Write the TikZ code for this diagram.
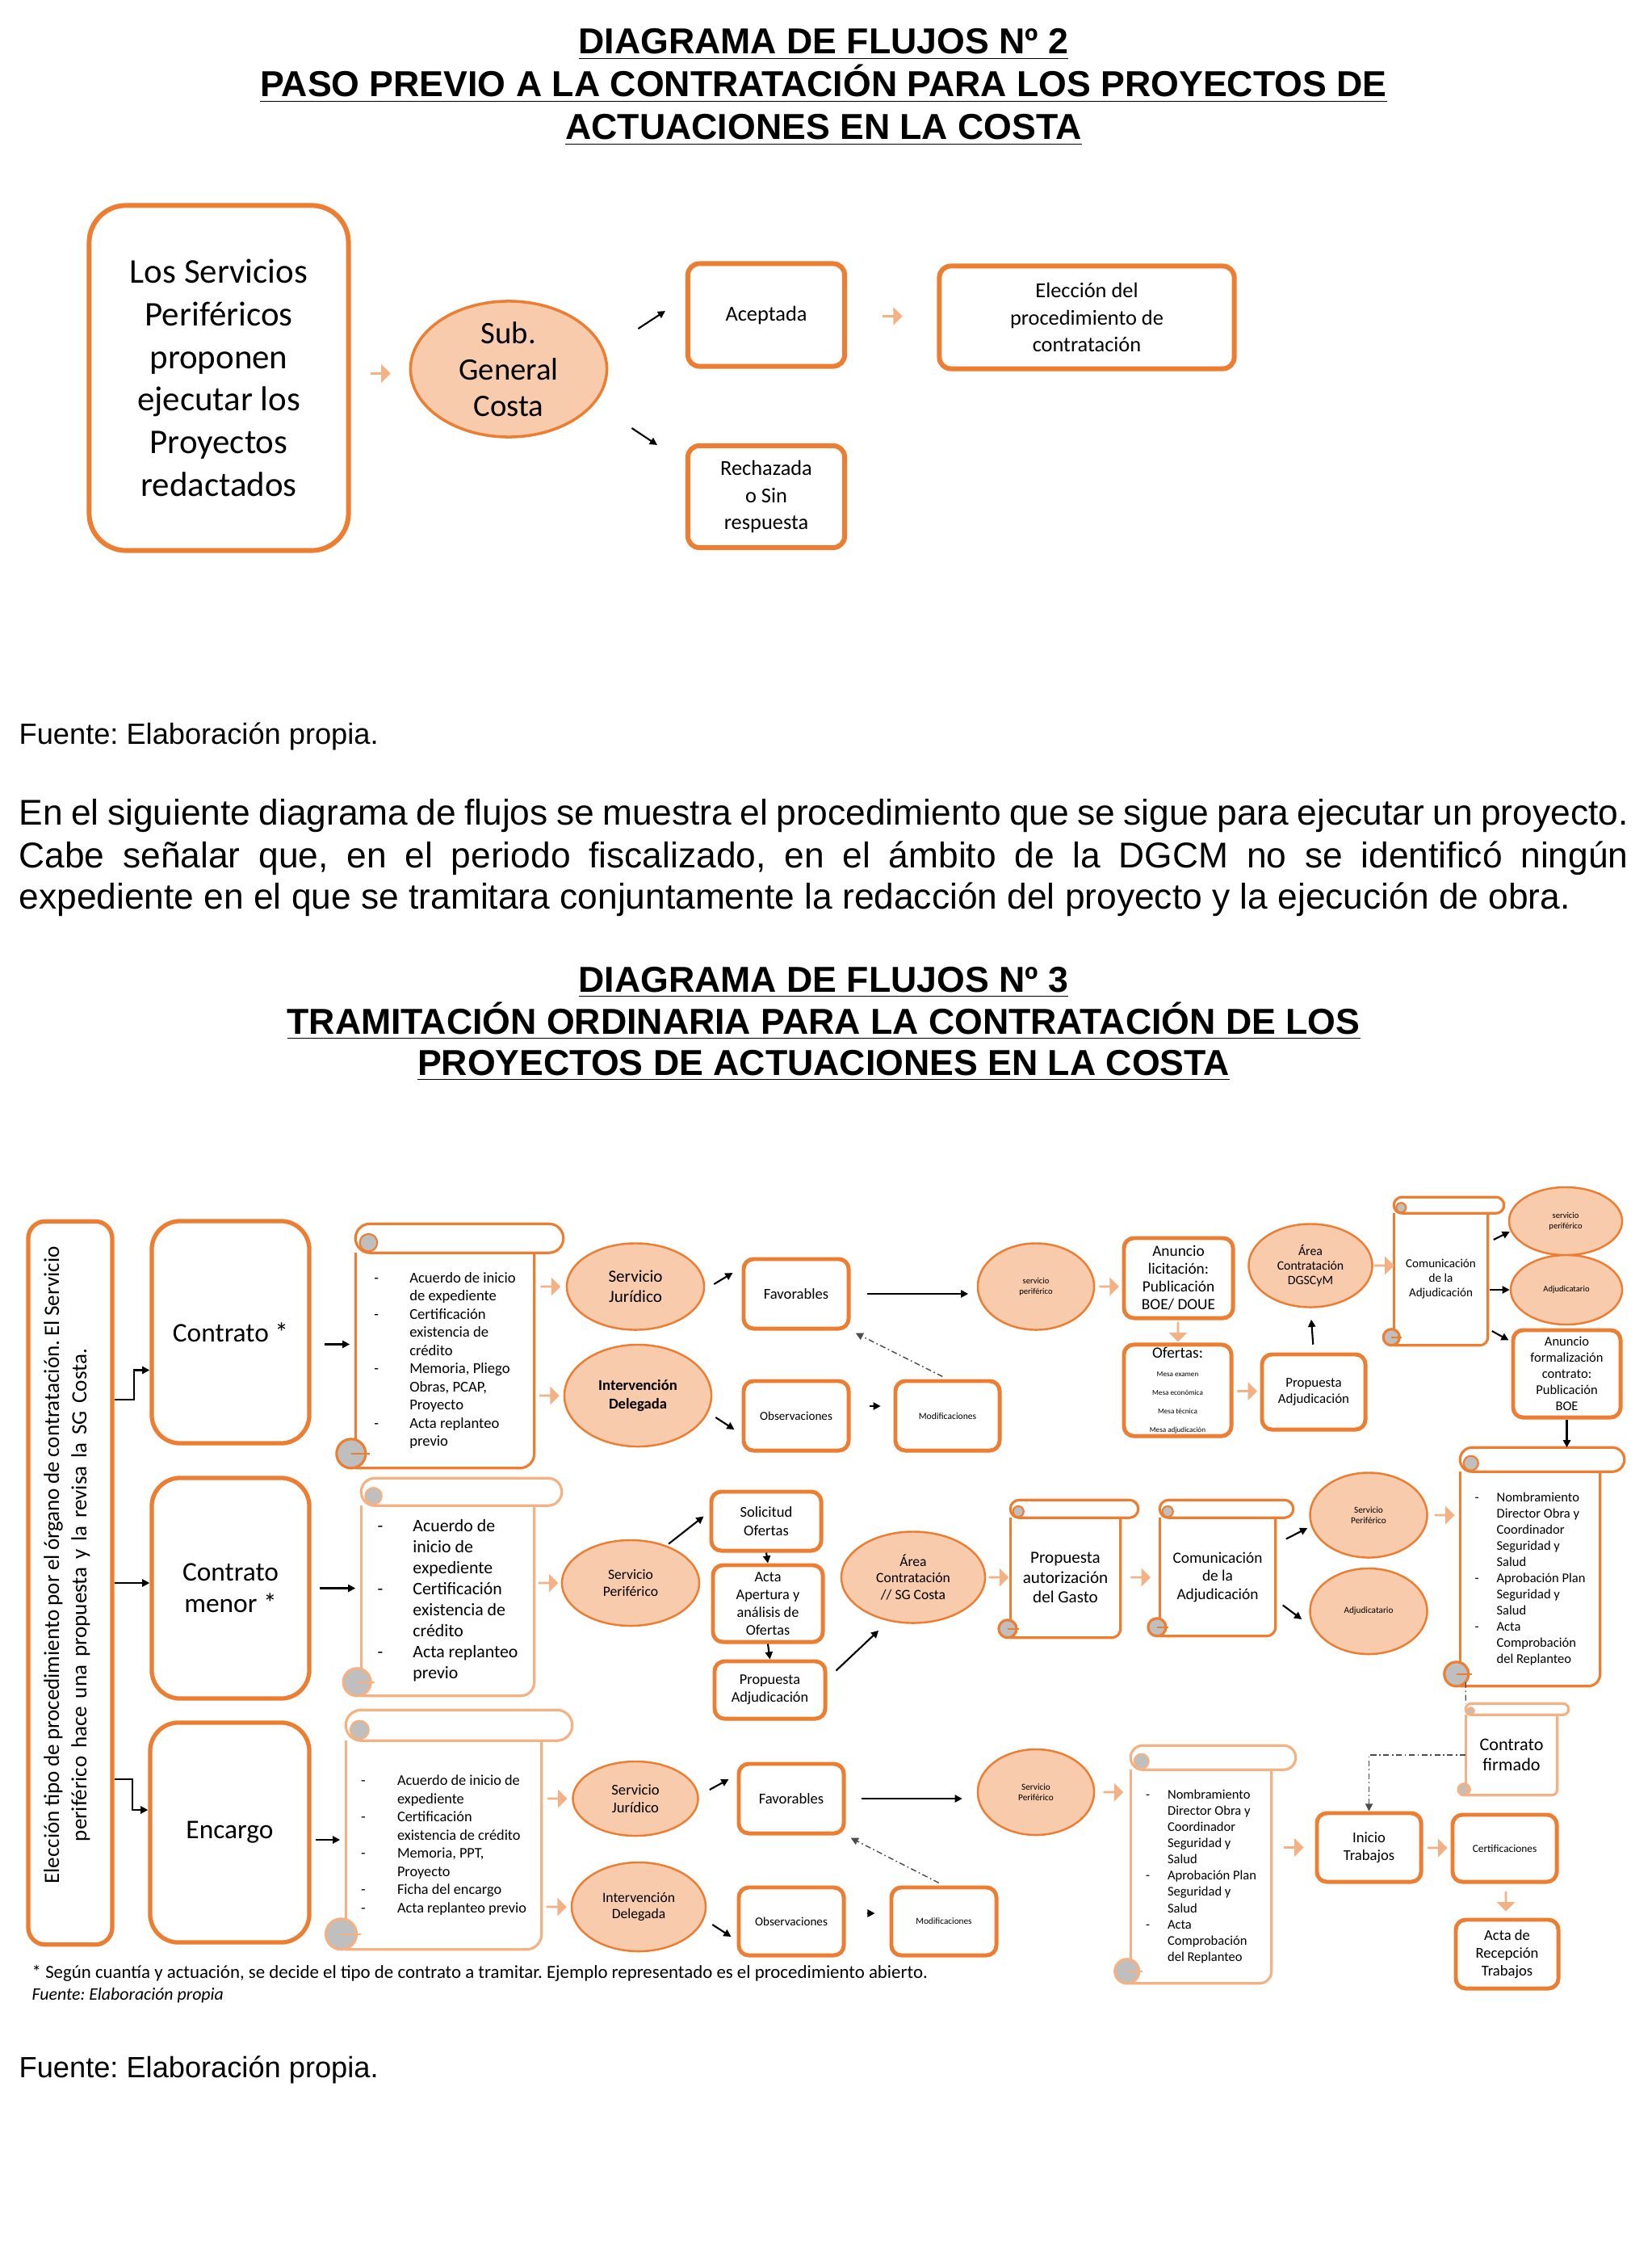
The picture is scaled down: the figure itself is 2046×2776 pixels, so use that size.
\documentclass[tikz,border=0pt]{standalone}
\usepackage{fontspec}
\setmainfont{Liberation Sans}
\newfontfamily\carl{Carlito}
\frenchspacing
\usetikzlibrary{positioning,calc,shapes.geometric,shapes.arrows,arrows.meta}
\definecolor{orgline}{HTML}{ED7D31}
\definecolor{orgfill}{HTML}{F8CBAD}
\definecolor{orglight}{HTML}{F4B183}
\definecolor{curlgray}{HTML}{BFBFBF}
\newlength\dashw
\newcommand{\lidash}{\makebox[\dashw][l]{-}}
\newcommand{\licont}{\hspace*{\dashw}}
\newcommand{\fsz}[2]{\fontsize{#1}{#2}\selectfont}
% scroll frame round a body node: [colour]{node}{roll radius in px}
\newcommand{\scrollit}[3][orgline]{%
  \draw[#1, line width=0.9pt] (#2.north west) -- ($(#2.south west)+(0,-#3)$);
  \draw[#1, line width=0.9pt, rounded corners=#3*0.01cm] (#2.south west) -- (#2.south east) -- (#2.north east);
  \draw[#1, line width=0.9pt, fill=white, rounded corners=#3*0.01cm] ($(#2.north west)+(0,-2*#3)$) rectangle ($(#2.north east)+(2*#3,0)$);
  \filldraw[draw=#1, line width=0.6pt, fill=curlgray] ($(#2.north west)+(0.9*#3,-0.7*#3)$) circle[radius=0.6*#3*0.01cm];
  \filldraw[draw=#1, line width=0.9pt, fill=curlgray] ($(#2.south west)+(-0.3*#3,-#3)$) circle[radius=#3*0.01cm];
  \draw[#1, line width=0.6pt] ($(#2.south west)+(-0.3*#3,-#3)$) -- ++(1.3*#3,0);
}
\tikzset{
  bigbox/.style={draw=orgline, line width=1.7pt, rounded corners=13pt, align=center, inner sep=2pt, font=\carl\fsz{12.2}{15}},
  box2/.style={draw=orgline, line width=1.7pt, rounded corners=4pt, align=center, inner sep=1pt, font=\carl\fsz{7.5}{9.5}},
  kbox/.style={draw=orgline, line width=1.5pt, rounded corners=10pt, align=center, inner sep=1pt, font=\carl\fsz{9.5}{11}},
  obox/.style={draw=orgline, line width=1.4pt, rounded corners=3.5pt, align=center, inner sep=1pt},
  ell/.style={ellipse, draw=orgline, fill=orgfill, line width=0.7pt, inner sep=0pt, align=center},
  scrl/.style={rectangle, inner sep=0pt, align=#1},
  scrl/.default=center,
  dw/.style={execute at begin node={\setlength\dashw{#1}}},
  blk/.style={single arrow, fill=orglight, draw=none, minimum height=7pt, minimum width=6.5pt, single arrow head extend=1.5pt, inner sep=0pt},
  blkdown/.style={blk, shape border rotate=270},
  arr/.style={-{Triangle[length=2.6pt,width=2.6pt]}, line width=0.6pt, black},
  dsh/.style={gray!60!black, line width=0.4pt, dash pattern=on 2pt off 1pt on 0.5pt off 1pt},
  ttl/.style={anchor=base, inner sep=0pt, font=\bfseries\fsz{12.7}{15}},
  txt/.style={anchor=base west, inner sep=0pt, font=\fsz{12.6}{15}}
}
\begin{document}
\begin{tikzpicture}[x=0.01cm, y=-0.01cm]
\useasboundingbox (0,0) rectangle (2046,2776);
% titles and text
\node[ttl] (t1a) at (1020,67) {\underline{DIAGRAMA DE FLUJOS Nº 2}};
\node[ttl] (t1b) at (1020,120) {\underline{PASO PREVIO A LA CONTRATACIÓN PARA LOS PROYECTOS DE}};
\node[ttl] (t1c) at (1020,173) {\underline{ACTUACIONES EN LA COSTA}};
\node[txt, font=\fsz{10.3}{13}] (src1) at (23,921) {Fuente: Elaboración propia.};
\node[txt] (p1) at (23,1021) {\makebox[19.92cm][s]{En el siguiente diagrama de flujos se muestra el procedimiento que se sigue para ejecutar un proyecto.}};
\node[txt] (p2) at (23,1074) {\makebox[19.92cm][s]{Cabe señalar que, en el periodo fiscalizado, en el ámbito de la DGCM no se identificó ningún}};
\node[txt] (p3) at (23,1125) {expediente en el que se tramitara conjuntamente la redacción del proyecto y la ejecución de obra.};
\node[ttl] (t2a) at (1020,1228) {\underline{DIAGRAMA DE FLUJOS Nº 3}};
\node[ttl] (t2b) at (1020,1280) {\underline{TRAMITACIÓN ORDINARIA PARA LA CONTRATACIÓN DE LOS}};
\node[ttl] (t2c) at (1020,1331) {\underline{PROYECTOS DE ACTUACIONES EN LA COSTA}};
\node[txt, font=\fsz{10.3}{13}] (src2) at (23,2572) {Fuente: Elaboración propia.};

% diagrama 2
\node[bigbox, minimum width=3.21cm, minimum height=4.27cm] (prop) at (271,468) {Los Servicios\\Periféricos\\proponen\\ejecutar los\\Proyectos\\redactados};
\node[ell, line width=1pt, minimum width=2.43cm, minimum height=1.68cm, font=\carl\fsz{11}{12.8}] (sgc) at (630,457) {Sub.\\General\\Costa};
\node[box2, minimum width=1.94cm, minimum height=1.27cm] (acep) at (949,390) {Aceptada};
\node[box2, minimum width=1.94cm, minimum height=1.26cm] (rech) at (949,615) {Rechazada\\o Sin\\respuesta};
\node[box2, minimum width=3.65cm, minimum height=1.27cm] (elec) at (1346,393) {Elección del\\procedimiento de\\contratación};
\node[blk] (b1) at ($(prop.east)!0.5!(sgc.west)$) {};
\node[blk] (b2) at ($(acep.east)!0.5!(elec.west)$) {};
\draw[arr] ($(sgc.east)+(37,-50)$) -- ($(acep.west)+(-25,-5)$);
\draw[arr] ($(sgc.east)+(29,73)$) -- ($(rech.north west)+(-35,2)$);

% diagrama 3: columna izquierda
\node[draw=orgline, line width=1.5pt, rounded corners=6pt, minimum width=1.04cm, minimum height=8.95cm] (tall) at (87,1960) {};
\node[rotate=90, inner sep=0pt, font=\carl\fsz{7.7}{9}] (tall1) at (66,1938) {\makebox[7.89cm][s]{Elección tipo de procedimiento por el órgano de contratación. El Servicio}};
\node[rotate=90, inner sep=0pt, font=\carl\fsz{7.7}{9}] (tall2) at (100,1975) {\makebox[6.1cm][s]{periférico hace una propuesta y la revisa la SG Costa.}};
\node[kbox, minimum width=1.95cm, minimum height=2.75cm] (con) at (285.5,1649.5) {Contrato *};
\node[kbox, minimum width=1.95cm, minimum height=2.73cm] (conm) at (285.5,1966.5) {Contrato\\menor *};
\node[kbox, minimum width=1.97cm, minimum height=2.72cm] (enc) at (284.5,2269) {Encargo};
\draw[arr] (tall.east |- 0,1733) -- ++(24,0) |- ($(con.west)+(0,47)$);
\draw[arr] (tall.east) -- (tall.east -| conm.west);
\draw[arr] (tall.east |- 0,2203) -- ++(22,0) |- ($(enc.west)+(0,-28)$);

% fila 1: contrato
\node[scrl=left, minimum width=2.2cm, minimum height=2.65cm, font=\carl\fsz{5.3}{6.4}, dw=12.5pt] (sc1) at (551,1684.5) {\lidash Acuerdo de inicio\\\licont de expediente\\\lidash Certificación\\\licont existencia de\\\licont crédito\\\lidash Memoria, Pliego\\\licont Obras, PCAP,\\\licont Proyecto\\\lidash Acta replanteo\\\licont previo};
\scrollit{sc1}{18}
\draw[arr, shorten <=4.5pt, shorten >=2pt] ($(con.east)+(0,15)$) -- ($(con.east -| sc1.west)+(0,15)$);
\node[ell, minimum width=1.7cm, minimum height=1.07cm, font=\carl\fsz{6}{7}] (sj1) at (787,1593) {Servicio\\Jurídico};
\node[ell, minimum width=1.82cm, minimum height=1.26cm, font=\carl\bfseries\fsz{5.3}{6.5}] (id1) at (790,1728) {Intervención\\Delegada};
\node[blk] (b3) at ($(sc1.east |- sj1.west)!0.5!(sj1.west)$) {};
\node[blk] (b4) at ($(sc1.east |- id1.west)!0.5!(id1.west)$) {};
\node[obox, minimum width=1.3cm, minimum height=0.86cm, font=\carl\fsz{5.3}{6.3}] (fav1) at (986,1602) {Favorables};
\node[obox, minimum width=1.3cm, minimum height=0.86cm, font=\carl\fsz{4.3}{5}] (obs1) at (986,1753) {Observaciones};
\node[obox, minimum width=1.29cm, minimum height=0.86cm, font=\carl\fsz{3.3}{4}] (mod1) at (1173.5,1753) {Modificaciones};
\node[ell, minimum width=1.44cm, minimum height=1.07cm, font=\carl\fsz{3}{3.6}] (sp1) at (1283,1593) {servicio\\periférico};
\draw[arr] ($(sj1.east)+(11,-3)$) -- ($(fav1.west)+(-11,-26)$);
\draw[arr] ($(id1.east)+(4,27)$) -- ($(obs1.west)+(-9,17)$);
\draw[arr, shorten <=5.7pt, shorten >=3pt] (fav1.east) -- (fav1.east -| sp1.west);
\draw[arr, shorten <=6.8pt, shorten >=4.5pt] ($(obs1.east)+(0,-12)$) -- ($(obs1.east -| mod1.west)+(0,-12)$);
\draw[dsh, -{Triangle[length=2.6pt,width=2.6pt]}, shorten <=2pt, shorten >=2pt] (mod1.north) -- (fav1.south east);
\node[obox, minimum width=1.35cm, minimum height=0.99cm, font=\carl\fsz{5.5}{6.3}] (anun) at (1459.5,1582.5) {Anuncio\\licitación:\\Publicación\\BOE/ DOUE};
\node[obox, minimum width=1.33cm, minimum height=0.97cm, font=\carl\fsz{5.5}{6.5}] (ofer) at (1458.5,1721.5) {Ofertas:\\\fsz{2.6}{3.4}Mesa examen\\\fsz{2.6}{3.4}Mesa económica\\\fsz{2.6}{3.4}Mesa técnica\\\fsz{2.6}{3.4}Mesa adjudicación};
\node[obox, minimum width=1.28cm, minimum height=0.93cm, font=\carl\fsz{4.8}{5.8}] (padj1) at (1627,1723.5) {Propuesta\\Adjudicación};
\node[ell, minimum width=1.53cm, minimum height=1.03cm, font=\carl\fsz{4.5}{5.1}] (area1) at (1623,1567) {Área\\Contratación\\DGSCyM};
\node[blk] (b5) at ($(sp1.east)!0.5!(anun.west |- sp1.east)$) {};
\node[blkdown] (b6) at ($(anun.south)!0.5!(ofer.north)$) {};
\node[blk] (b7) at ($(ofer.east)!0.5!(padj1.west)$) {};
\draw[arr, shorten <=2.8pt, shorten >=4pt] (padj1.north) -- (area1.south);
\node[scrl, minimum width=1.15cm, minimum height=1.62cm, font=\carl\fsz{4.3}{5.1}] (com1) at (1784.5,1584) {Comunicación\\de la\\Adjudicación};
\scrollit{com1}{10}
\node[blk] (b8) at ($(area1.east)!0.5!(com1.west |- area1.east)$) {};
\node[ell, minimum width=1.4cm, minimum height=0.84cm, font=\carl\fsz{3}{3.6}] (spr1) at (1939,1512) {servicio\\periférico};
\node[ell, minimum width=1.38cm, minimum height=0.86cm, font=\carl\fsz{3}{3.6}] (adj1) at (1940,1597) {Adjudicatario};
\node[obox, minimum width=1.33cm, minimum height=1.08cm, font=\carl\fsz{4.7}{5.7}] (form) at (1940.5,1701) {Anuncio\\formalización\\contrato:\\Publicación\\BOE};
\draw[arr] ($(com1.east)+(7,-49)$) -- ($(spr1.west)+(2,13)$);
\draw[arr] ($(com1.east)+(2,13)$) -- (adj1.west);
\draw[arr] ($(com1.east)+(5,64)$) -- ($(form.north west)+(-3,15)$);

% fila 2: contrato menor
\node[scrl=left, minimum width=2.13cm, minimum height=2.34cm, font=\carl\fsz{6.2}{7.4}, dw=12.5pt] (sc2) at (554.5,1982) {\lidash Acuerdo de\\\licont inicio de\\\licont expediente\\\lidash Certificación\\\licont existencia de\\\licont crédito\\\lidash Acta replanteo\\\licont previo};
\scrollit[orglight]{sc2}{17}
\draw[arr, shorten <=2.8pt, shorten >=2pt] (conm.east) -- (conm.east -| sc2.west);
\node[ell, minimum width=1.7cm, minimum height=1.06cm, font=\carl\fsz{5}{5.7}] (sp2) at (781,1960) {Servicio\\Periférico};
\node[blk] (b9) at ($(sc2.east |- sp2.west)!0.5!(sp2.west)$) {};
\node[obox, minimum width=1.36cm, minimum height=0.73cm, font=\carl\fsz{5.3}{6.5}] (sol) at (949,1883.5) {Solicitud\\Ofertas};
\node[obox, minimum width=1.36cm, minimum height=0.95cm, font=\carl\fsz{5.2}{6.3}] (acta) at (951,1985.5) {Acta\\Apertura y\\análisis de\\Ofertas};
\node[obox, minimum width=1.37cm, minimum height=0.71cm, font=\carl\fsz{5.2}{6.3}] (padj2) at (953.5,2092.5) {Propuesta\\Adjudicación};
\node[ell, minimum width=1.78cm, minimum height=1.13cm, font=\carl\fsz{5}{5.7}] (area2) at (1131,1953) {Área\\Contratación\\// SG Costa};
\draw[arr] ($(sp2.north east)+(-14,-10)$) -- ($(sol.west)+(-7,-6)$);
\draw[arr] (sol.south) -- (acta.north);
\draw[arr] (acta.south) -- (padj2.north);
\draw[arr] ($(padj2.east)+(11,-24)$) -- ($(area2.south west)+(21,25)$);
\node[scrl, minimum width=1.35cm, minimum height=1.47cm, font=\carl\fsz{6}{7}] (gasto) at (1319.5,1953.5) {Propuesta\\autorización\\del Gasto};
\scrollit{gasto}{11}
\node[blk] (b10) at ($(area2.east)!0.5!(gasto.west |- area2.east)$) {};
\node[scrl, minimum width=1.42cm, minimum height=1.45cm, font=\carl\fsz{5.5}{6.4}] (com2) at (1508,1952.5) {Comunicación\\de la\\Adjudicación};
\scrollit{com2}{11}
\node[blk] (b11) at ($(gasto.east)!0.5!(com2.west)$) {};
\node[ell, minimum width=1.45cm, minimum height=1.05cm, font=\carl\fsz{3.2}{3.8}] (spr2) at (1695,1876) {Servicio\\Periférico};
\node[ell, minimum width=1.45cm, minimum height=1.06cm, font=\carl\fsz{3.2}{3.8}] (adj2) at (1695,1995) {Adjudicatario};
\draw[arr] ($(com2.east)+(13,-47)$) -- ($(spr2.west)+(-2,16)$);
\draw[arr] ($(com2.east)+(9,35)$) -- ($(adj2.west)+(-9,10)$);
\node[scrl=left, minimum width=1.72cm, minimum height=2.64cm, font=\carl\fsz{4.7}{5.7}, dw=7.7pt] (nom2) at (1895,1955) {\lidash Nombramiento\\\licont Director Obra y\\\licont Coordinador\\\licont Seguridad y\\\licont Salud\\\lidash Aprobación Plan\\\licont Seguridad y\\\licont Salud\\\lidash Acta\\\licont Comprobación\\\licont del Replanteo};
\scrollit{nom2}{15}
\node[blk] (b12) at ($(spr2.east)!0.5!(nom2.west |- spr2.east)$) {};
\draw[arr] (form.south) -- ($(form.south |- nom2.north)+(0,-30)$);
\node[scrl, minimum width=1.12cm, minimum height=0.98cm, font=\carl\fsz{6.3}{7.1}] (firm) at (1872,2173) {Contrato\\firmado};
\scrollit[orglight]{firm}{7}
\draw[dsh] ($(nom2.south west)+(7,-5)$) -- ($(firm.north west)+(0,-14)$);

% fila 3: encargo
\node[scrl=left, minimum width=2.41cm, minimum height=2.57cm, font=\carl\fsz{5.2}{6.4}, dw=12.8pt] (sc3) at (549.5,2284.5) {\lidash Acuerdo de inicio de\\\licont expediente\\\lidash Certificación\\\licont existencia de crédito\\\lidash Memoria, PPT,\\\licont Proyecto\\\lidash Ficha del encargo\\\lidash Acta replanteo previo};
\scrollit[orglight]{sc3}{19}
\draw[arr, shorten <=1.4pt, shorten >=2pt] ($(enc.east)+(0,9)$) -- ($(enc.east -| sc3.west)+(0,9)$);
\node[ell, minimum width=1.55cm, minimum height=0.92cm, font=\carl\fsz{5.3}{6.2}] (sj3) at (787,2227) {Servicio\\Jurídico};
\node[ell, minimum width=1.66cm, minimum height=1.1cm, font=\carl\fsz{5}{5.7}] (id3) at (791,2361) {Intervención\\Delegada};
\node[blk] (b13) at ($(sc3.east |- sj3.west)!0.5!(sj3.west)$) {};
\node[blk] (b14) at ($(sc3.east |- id3.west)!0.5!(id3.west)$) {};
\node[obox, minimum width=1.3cm, minimum height=0.86cm, font=\carl\fsz{5.3}{6.3}] (fav3) at (980,2227) {Favorables};
\node[obox, minimum width=1.3cm, minimum height=0.84cm, font=\carl\fsz{4.3}{5}] (obs3) at (980,2379) {Observaciones};
\node[obox, minimum width=1.3cm, minimum height=0.84cm, font=\carl\fsz{3.2}{4}] (mod3) at (1169,2379) {Modificaciones};
\node[ell, minimum width=1.44cm, minimum height=1.06cm, font=\carl\fsz{3.2}{3.8}] (sp3) at (1283,2219) {Servicio\\Periférico};
\draw[arr] ($(sj3.east)+(13,-11)$) -- ($(fav3.west)+(-10,-24)$);
\draw[arr] ($(id3.east)+(7,22)$) -- ($(obs3.west)+(-7,19)$);
\draw[arr, shorten <=5.4pt, shorten >=5.1pt] (fav3.east) -- (fav3.east -| sp3.west);
\draw[arr, shorten <=7.4pt, shorten >=5.1pt] ($(obs3.east)+(0,-10)$) -- ($(obs3.east -| mod3.west)+(0,-10)$);
\draw[dsh, -{Triangle[length=2.6pt,width=2.6pt]}, shorten <=2pt, shorten >=2pt] (mod3.north) -- (fav3.south east);
\node[scrl=left, minimum width=1.73cm, minimum height=2.63cm, font=\carl\fsz{4.7}{5.7}, dw=7.7pt] (nom3) at (1487.5,2323.5) {\lidash Nombramiento\\\licont Director Obra y\\\licont Coordinador\\\licont Seguridad y\\\licont Salud\\\lidash Aprobación Plan\\\licont Seguridad y\\\licont Salud\\\lidash Acta\\\licont Comprobación\\\licont del Replanteo};
\scrollit[orglight]{nom3}{15}
\node[blk] (b15) at ($(sp3.east)!0.5!(nom3.west |- sp3.east)$) {};
\node[obox, minimum width=1.29cm, minimum height=0.85cm, font=\carl\fsz{5.3}{6.2}] (ini) at (1695.5,2287.5) {Inicio\\Trabajos};
\node[obox, minimum width=1.29cm, minimum height=0.83cm, font=\carl\fsz{3.8}{4.5}] (cert) at (1863.5,2288.5) {Certificaciones};
\node[obox, minimum width=1.27cm, minimum height=0.85cm, font=\carl\fsz{5.3}{6.3}] (rec) at (1866.5,2419.5) {Acta de\\Recepción\\Trabajos};
\node[blk] (b16) at ($(nom3.east |- ini.west)!0.5!(ini.west)$) {};
\node[blk] (b17) at ($(ini.east)!0.5!(cert.west)$) {};
\node[blkdown] (b18) at ($(cert.south)!0.5!(rec.north)$) {};
\draw[dsh, -{Triangle[length=2.6pt,width=2.6pt]}] (firm.west) -| (ini.north);

% notas
\node[anchor=base west, inner sep=0pt, font=\carl\fsz{6.5}{7}] (nota) at (39,2449) {* Según cuantía y actuación, se decide el tipo de contrato a tramitar. Ejemplo representado es el procedimiento abierto.};
\node[anchor=base west, inner sep=0pt, font=\carl\itshape\fsz{6.2}{7}] (fte) at (39,2476) {Fuente: Elaboración propia};
\end{tikzpicture}
\end{document}
